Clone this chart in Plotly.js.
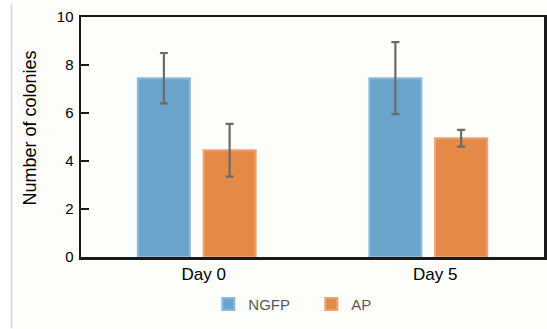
<!DOCTYPE html>
<html>
<head>
<meta charset="utf-8">
<script src="https://cdn.plot.ly/plotly-3.0.1.min.js"></script>
<style>
html,body{margin:0;padding:0;background:#fdfdf9;}
#chart{width:547px;height:329px;}
</style>
</head>
<body>
<div id="chart"></div>
<script>
const categories = ['Day 0', 'Day 5'];
const seriesNames = ['NGFP', 'AP'];
const ngfpValues = [7.45, 7.45];
const ngfpErrors = [1.05, 1.5];
const apValues = [4.45, 4.95];
const apErrors = [1.1, 0.35];
const yTickValues = [0, 2, 4, 6, 8, 10];

const errStyle = {type: 'data', visible: true, color: '#6b6b6b', thickness: 2.2, width: 4};

const traces = [
  {type: 'bar', name: seriesNames[0], x: categories, y: ngfpValues,
   error_y: Object.assign({array: ngfpErrors}, errStyle),
   marker: {color: '#6ba4cb', line: {color: '#8dbadb', width: 2}}},
  {type: 'bar', name: seriesNames[1], x: categories, y: apValues,
   error_y: Object.assign({array: apErrors}, errStyle),
   marker: {color: '#e58947', line: {color: '#eca271', width: 2}}}
];

const layout = {
  width: 547, height: 329,
  margin: {l: 81, r: 3, t: 16.5, b: 71.5},
  paper_bgcolor: '#fdfdf9', plot_bgcolor: '#fdfdf9',
  font: {family: '"Liberation Sans", Arial, sans-serif', color: '#000'},
  barmode: 'group', bargap: 0.432, bargroupgap: 0.208,
  showlegend: true,
  legend: {orientation: 'h', x: 0.275, xanchor: 'left', y: -0.197, yanchor: 'middle',
           font: {size: 15, color: '#595959'}, entrywidth: 58, bgcolor: 'rgba(0,0,0,0)'},
  xaxis: {type: 'category', showline: true, mirror: true, linecolor: '#1a1a1a', linewidth: 2.5,
          ticks: '', tickfont: {size: 17}, ticklabelshift: 7, showgrid: false, zeroline: false, fixedrange: true},
  yaxis: {range: [0, 10], tickvals: yTickValues, showline: true, mirror: true, linecolor: '#1a1a1a', linewidth: 2.5,
          ticks: 'inside', ticklen: 8, tickwidth: 1.5, tickcolor: '#1a1a1a', tickfont: {size: 15},
          ticklabelstandoff: 2, showgrid: false, zeroline: false, fixedrange: true},
  annotations: [{text: 'Number of colonies', xref: 'paper', yref: 'paper',
                 x: (30 - 81) / 463, y: (257.5 - 128.5) / 241, xanchor: 'center', yanchor: 'middle',
                 textangle: -90, showarrow: false, font: {size: 18, color: '#000'}}],
  shapes: [
    {type: 'rect', xref: 'paper', yref: 'paper', x0: -0.2, x1: (11.5 - 81) / 463, y0: -0.4, y1: 1.2,
     fillcolor: '#ffffff', line: {width: 0}, layer: 'below'},
    {type: 'line', xref: 'paper', yref: 'paper', x0: (11.5 - 81) / 463, x1: (11.5 - 81) / 463,
     y0: (257.5 - 329) / 241, y1: (257.5 - 4) / 241, line: {color: '#d4d4d4', width: 1.5}}
  ]
};

Plotly.newPlot('chart', traces, layout, {displayModeBar: false, staticPlot: true});
</script>
</body>
</html>
